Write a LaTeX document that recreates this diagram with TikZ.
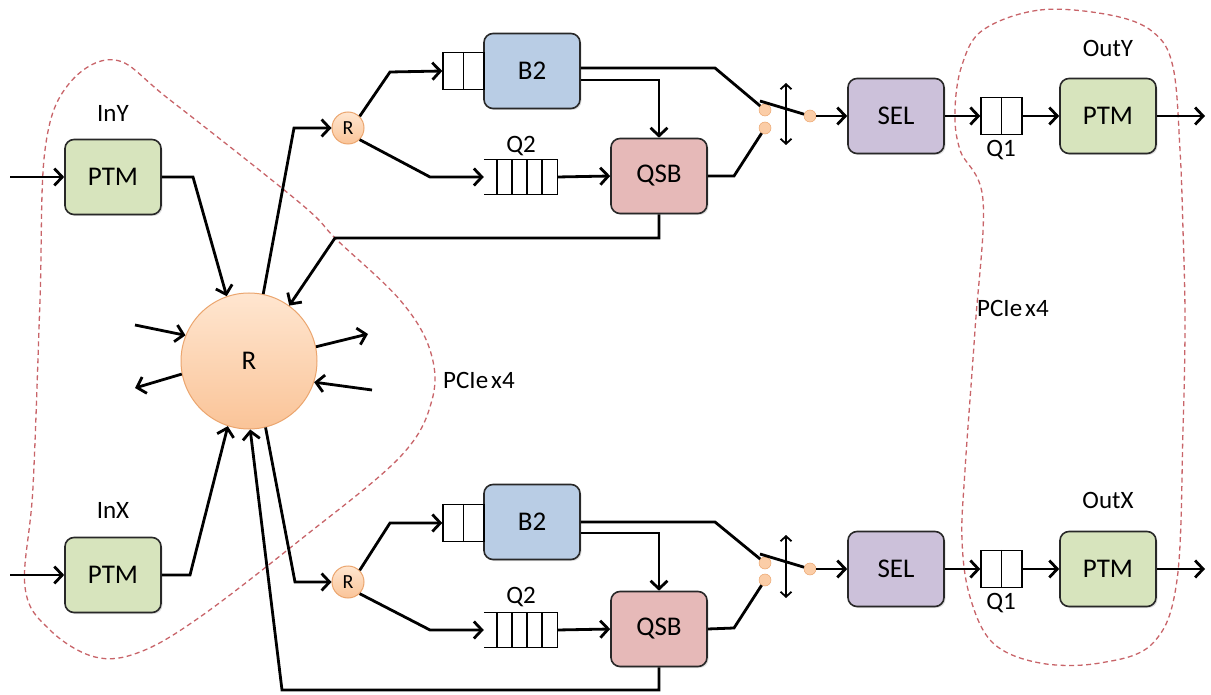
\documentclass[tikz,border=0pt]{standalone}
\usepackage{fontspec}
\setmainfont{Carlito}
\usetikzlibrary{arrows.meta,calc,shadows}
\definecolor{ptmfill}{RGB}{215,228,189}
\definecolor{bfill}{RGB}{185,205,229}
\definecolor{qsbfill}{RGB}{230,185,184}
\definecolor{selfill}{RGB}{204,193,218}
\definecolor{rtop}{RGB}{255,230,208}
\definecolor{rbot}{RGB}{250,196,152}
\definecolor{rdraw}{RGB}{235,165,110}
\definecolor{dashcol}{RGB}{200,100,105}
\definecolor{boxdraw}{RGB}{40,40,40}
\tikzset{
  blk/.style={draw=boxdraw, line width=1.6pt, rounded corners=9pt, minimum width=96pt, minimum height=75pt,
    font=\fontsize{27}{30}\selectfont, drop shadow={opacity=0.25, shadow xshift=1.5pt, shadow yshift=-1.5pt}},
  ptm/.style={blk, fill=ptmfill},
  bblk/.style={blk, fill=bfill},
  qsb/.style={blk, fill=qsbfill},
  sel/.style={blk, fill=selfill},
  bigR/.style={circle, draw=rdraw, line width=1pt, top color=rtop, bottom color=rbot, minimum size=136pt,
    inner sep=0pt, font=\fontsize{27}{30}\selectfont},
  smallR/.style={circle, draw=rdraw, line width=1pt, top color=rtop, bottom color=rbot, minimum size=32pt,
    inner sep=0pt, font=\fontsize{20}{22}\selectfont},
  contact/.style={circle, fill=rbot!85!white, draw=rdraw, line width=0.5pt, minimum size=12pt, inner sep=0pt},
  qrect/.style={draw=black, line width=1.4pt, minimum width=41pt, minimum height=37pt, inner sep=0pt},
  qopen/.style={draw=none, minimum width=73pt, minimum height=35pt, inner sep=0pt},
  lab/.style={font=\fontsize{25}{28}\selectfont, inner sep=0pt},
  arr/.style={-{Straight Barb[length=8pt,width=17pt]}, line width=2.8pt},
  ln/.style={line width=2.8pt},
  dbl/.style={{Straight Barb[length=5pt,width=11pt]}-{Straight Barb[length=5pt,width=11pt]}, line width=1.8pt},
  dashline/.style={draw=dashcol, line width=1.3pt, dash pattern=on 5pt off 3.5pt}
}
\begin{document}
\begin{tikzpicture}[x=1pt,y=-1pt]
\useasboundingbox (0,0) rectangle (1211,695);

% dashed regions
\draw[dashline] plot[smooth cycle, tension=0.6] coordinates {
  (115,60) (170,100) (300,203) (337,240) (400,300) (430,350) (432,400) (400,457)
  (300,540) (200,617) (140,652) (95,657) (50,630) (25,587) (33,487) (40,300) (45,150) (68,85)};
\draw[dashline] plot[smooth cycle, tension=0.6] coordinates {
  (983,30) (1040,10) (1110,15) (1153,32) (1173,67) (1180,150) (1183,230) (1185,320) (1183,430) (1177,580)
  (1153,643) (1100,663) (1040,663) (993,643) (970,597) (962,540) (965,470) (975,330)
  (983,200) (960,150) (955,110) (962,65)};

% main nodes
\node[bigR] (R) at (249,361) {R};
\node[ptm] (ptmY) at (113,177) {PTM};
\node[ptm] (ptmX) at (113,575) {PTM};
\node[smallR] (rY) at (348,128) {R};
\node[smallR] (rX) at (348,582) {R};
\node[bblk] (bY) at (532,71) {B2};
\node[bblk] (bX) at (532,522) {B2};
\node[qsb] (qsbY) at (659,176) {QSB};
\node[qsb] (qsbX) at (659,629) {QSB};
\node[sel] (selY) at (896,116) {SEL};
\node[sel] (selX) at (896,569) {SEL};
\node[ptm] (ptmOY) at (1108,116) {PTM};
\node[ptm] (ptmOX) at (1108,569) {PTM};

% queues
\node[qrect] (bqY) at (463.5,71) {};
\node[qrect] (bqX) at (463.5,523) {};
\draw[line width=1.4pt] (bqY.north) -- (bqY.south);
\draw[line width=1.4pt] (bqX.north) -- (bqX.south);
\node[qopen] (q2Y) at (520.5,177) {};
\node[qopen] (q2X) at (520.5,630) {};
\foreach \q in {q2Y,q2X}{
  \draw[line width=1.4pt] (\q.north west) -- (\q.north east) -- (\q.south east) -- (\q.south west);
  \foreach \d in {13,28,43,58}
    \draw[line width=1.4pt] ([xshift=\d pt]\q.north west) -- ([xshift=\d pt]\q.south west);
}
\node[qrect] (q1Y) at (1001.5,116) {};
\node[qrect] (q1X) at (1001.5,569) {};
\draw[line width=1.4pt] (q1Y.north) -- (q1Y.south);
\draw[line width=1.4pt] (q1X.north) -- (q1X.south);

% switch contacts
\node[contact] (cY1) at (765,110) {};
\node[contact] (cY2) at (765,128) {};
\node[contact] (cYo) at (810,116) {};
\node[contact] (cX1) at (765,563) {};
\node[contact] (cX2) at (765,580) {};
\node[contact] (cXo) at (810,569) {};
\coordinate (bladeY) at (760,101);
\coordinate (bladeX) at (760,554);
\coordinate (swYt) at (786,83);
\coordinate (swYb) at (786,145);
\coordinate (swXt) at (786,535);
\coordinate (swXb) at (786,598);

% labels
\node[lab] (lInY) at (113,113) {InY};
\node[lab] (lInX) at (113,510) {InX};
\node[lab] (lOutY) at (1108,48) {OutY};
\node[lab] (lOutX) at (1108,500) {OutX};
\node[lab] (lQ2Y) at (521,146) {Q2};
\node[lab] (lQ2X) at (521,597) {Q2};
\node[lab] (lQ1Y) at (1001,150) {Q1};
\node[lab] (lQ1X) at (1001,603) {Q1};
\node[lab, anchor=west] (lP1) at (443,380) {PCIe\hspace{3pt}x4};
\node[lab, anchor=west] (lP2) at (977,308) {PCIe\hspace{3pt}x4};

% free ends
\coordinate (inY) at (10,177);
\coordinate (inX) at (10,575);
\coordinate (outY) at (1205,116);
\coordinate (outX) at (1205,569);
\coordinate (a1) at (135,325);
\coordinate (a2) at (135,388);
\coordinate (a3) at (368,334);
\coordinate (a4) at (372,390);

% top half
\draw[arr] (inY) -- (ptmY.west);
\draw[arr] (ptmY.east) -- (193,177) -- (R.109);
\draw[arr] (R.78) -- (294,128) -- (rY.west);
\draw[arr] (rY.north east) -- (390,72) -- (bqY.west);
\draw[arr] (rY.south east) -- (430,177) -- (q2Y.west);
\draw[arr] (q2Y.east) -- (qsbY.west);
\draw[ln] ($(bY.east)+(0,-3)$) -- (715,68) -- (cY1);
\draw[arr] ($(bY.east)+(0,9)$) -| (qsbY.north);
\draw[ln] (qsbY.east) -- (734,176) -- (cY2);
\draw[ln] (bladeY) -- (cYo);
\draw[dbl] (swYt) -- (swYb);
\draw[arr] (cYo) -- (selY.west);
\draw[arr] (selY.east) -- (q1Y.west);
\draw[arr] (q1Y.east) -- (ptmOY.west);
\draw[arr] (ptmOY.east) -- (outY);
\draw[arr] (qsbY.south) -- (659,238) -- (335,238) -- (R.54);

% bottom half
\draw[arr] (inX) -- (ptmX.west);
\draw[arr] (ptmX.east) -- (190,575) -- (R.252);
\draw[arr] (R.284) -- (295,582) -- (rX.west);
\draw[arr] (rX.north east) -- (390,523) -- (bqX.west);
\draw[arr] (rX.south east) -- (430,630) -- (q2X.west);
\draw[arr] (q2X.east) -- (qsbX.west);
\draw[ln] ($(bX.east)+(0,0)$) -- (715,522) -- (cX1);
\draw[arr] ($(bX.east)+(0,11)$) -| (qsbX.north);
\draw[ln] (qsbX.east) -- (734,628) -- (cX2);
\draw[ln] (bladeX) -- (cXo);
\draw[dbl] (swXt) -- (swXb);
\draw[arr] (cXo) -- (selX.west);
\draw[arr] (selX.east) -- (q1X.west);
\draw[arr] (q1X.east) -- (ptmOX.west);
\draw[arr] (ptmOX.east) -- (outX);
\draw[arr] (qsbX.south) -- (659,690) -- (282,690) -- (R.271);

% stubs around R
\draw[arr] (a1) -- (R.158);
\draw[arr] (R.191) -- (a2);
\draw[arr] (R.12) -- (a3);
\draw[arr] (a4) -- (R.342);
\end{tikzpicture}
\end{document}
